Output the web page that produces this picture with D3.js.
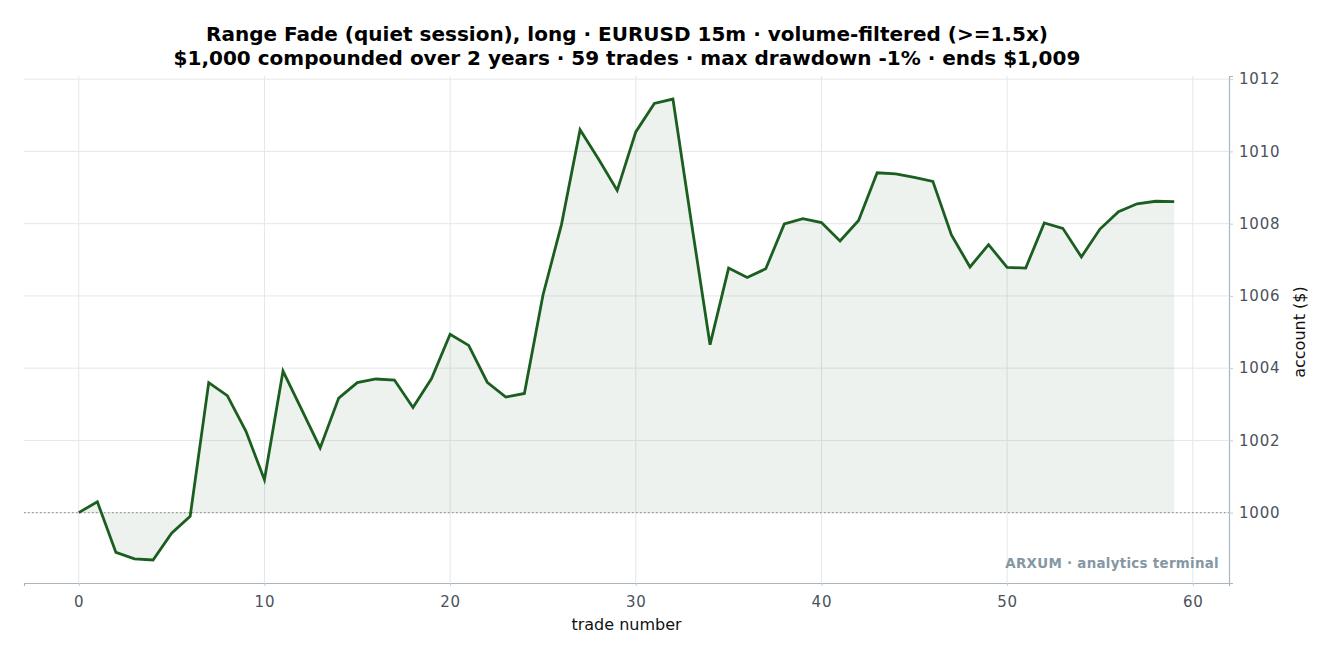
<!DOCTYPE html>
<html lang="en">
<head>
<meta charset="UTF-8">
<title>Range Fade equity</title>
<script src="https://d3js.org/d3.v7.min.js"></script>
<style>
    body {margin: 0; background: #fff;}
    svg {display: block; font-family: "DejaVu Sans", sans-serif;}
</style>
</head>
<body>
<svg id="chart" width="1331" height="658"></svg>
<script>
// account value after each trade (trade 0 = start)
let trades = d3.range(0, 60)
let account = [
    1000.00, 1000.30, 998.90, 998.72, 998.69, 999.43, 999.90, 1003.60, 1003.24, 1002.26,
    1000.91, 1003.92, 1002.86, 1001.79, 1003.17, 1003.60, 1003.70, 1003.67, 1002.91, 1003.71,
    1004.94, 1004.63, 1003.61, 1003.20, 1003.30, 1006.02, 1007.98, 1010.60, 1009.78, 1008.92,
    1010.54, 1011.33, 1011.45, 1008.02, 1004.65, 1006.77, 1006.51, 1006.75, 1007.99, 1008.14,
    1008.03, 1007.52, 1008.09, 1009.41, 1009.38, 1009.28, 1009.17, 1007.69, 1006.80, 1007.42,
    1006.79, 1006.77, 1008.02, 1007.87, 1007.08, 1007.85, 1008.33, 1008.55, 1008.62, 1008.61
]
let xTicks = [0, 10, 20, 30, 40, 50, 60]
let yTicks = [1000, 1002, 1004, 1006, 1008, 1010, 1012]
let startBalance = 1000
let titleLines = [
    "Range Fade (quiet session), long · EURUSD 15m · volume-filtered (>=1.5x)",
    "$1,000 compounded over 2 years · 59 trades · max drawdown -1% · ends $1,009"
]

let data = trades.map((t, i) => ({t: t, v: account[i]}))

let margin = {left: 24, right: 102, top: 76, bottom: 75}
let width = 1331, height = 658
let svg = d3.select("#chart")

// 5% padding like the original plot
let xPad = (d3.max(trades) - d3.min(trades)) * 0.05
let yPad = (d3.max(account) - d3.min(account)) * 0.05
let x = d3.scaleLinear()
    .domain([d3.min(trades) - xPad, d3.max(trades) + xPad])
    .range([margin.left, width - margin.right])
let y = d3.scaleLinear()
    .domain([d3.min(account) - yPad, d3.max(account) + yPad])
    .range([height - margin.bottom, margin.top])

// grid
svg.append("g")
    .selectAll("line")
    .data(xTicks)
    .join("line")
    .attr("x1", d => x(d)).attr("x2", d => x(d))
    .attr("y1", margin.top).attr("y2", height - margin.bottom)
    .attr("stroke", "#e4e7ea").attr("stroke-width", 1)
svg.append("g")
    .selectAll("line")
    .data(yTicks)
    .join("line")
    .attr("x1", margin.left).attr("x2", width - margin.right)
    .attr("y1", d => y(d)).attr("y2", d => y(d))
    .attr("stroke", "#e4e7ea").attr("stroke-width", 1)

// area between curve and start balance
let area = d3.area()
    .x(d => x(d.t))
    .y0(y(startBalance))
    .y1(d => y(d.v))
svg.append("path")
    .datum(data)
    .attr("d", area)
    .attr("fill", "#1b5e20")
    .attr("fill-opacity", 0.08)

// start balance reference
svg.append("line")
    .attr("x1", margin.left).attr("x2", width - margin.right)
    .attr("y1", y(startBalance)).attr("y2", y(startBalance))
    .attr("stroke", "#9a9a9a")
    .attr("stroke-width", 1.3)
    .attr("stroke-dasharray", "1.5,2.5")

// equity line
let line = d3.line()
    .x(d => x(d.t))
    .y(d => y(d.v))
svg.append("path")
    .datum(data)
    .attr("d", line)
    .attr("fill", "none")
    .attr("stroke", "#1b5e20")
    .attr("stroke-width", 2.8)
    .attr("stroke-linejoin", "miter")

// axes
let xAxis = svg.append("g")
    .attr("transform", `translate(0,${height - margin.bottom})`)
    .call(d3.axisBottom(x).tickValues(xTicks).tickSize(3).tickPadding(10))
let yAxis = svg.append("g")
    .attr("transform", `translate(${width - margin.right},0)`)
    .call(d3.axisRight(y).tickValues(yTicks).tickFormat(d3.format("d")).tickSize(4).tickPadding(6))

for (let ax of [xAxis, yAxis]) {
    ax.select(".domain").attr("stroke", "#a7b6c0").attr("stroke-width", 1.2)
    ax.selectAll(".tick line").attr("stroke", "#c3ced6")
    ax.selectAll(".tick text")
        .attr("fill", "#4a525b")
        .attr("font-size", 15)
        .attr("font-family", "DejaVu Sans, sans-serif")
        .style("letter-spacing", "0.8px")
}

// axis labels
svg.append("text")
    .attr("x", (margin.left + width - margin.right) / 2)
    .attr("y", 630)
    .attr("text-anchor", "middle")
    .attr("font-size", 16)
    .attr("fill", "#111")
    .text("trade number")
svg.append("text")
    .attr("transform", `translate(1305,${y(1005)}) rotate(-90)`)
    .attr("text-anchor", "middle")
    .attr("font-size", 16)
    .attr("fill", "#111")
    .text("account ($)")

// title
svg.append("g")
    .selectAll("text")
    .data(titleLines)
    .join("text")
    .attr("x", 627)
    .attr("y", (d, i) => 41 + i * 24)
    .attr("text-anchor", "middle")
    .attr("font-size", 20)
    .attr("font-weight", "bold")
    .attr("fill", "#000")
    .text(d => d)

// watermark
svg.append("text")
    .attr("x", 1219)
    .attr("y", 568)
    .attr("text-anchor", "end")
    .attr("font-size", 13.4)
    .attr("font-weight", "bold")
    .attr("fill", "#8597a3")
    .style("letter-spacing", "0.3px")
    .text("ARXUM · analytics terminal")
</script>
</body>
</html>
